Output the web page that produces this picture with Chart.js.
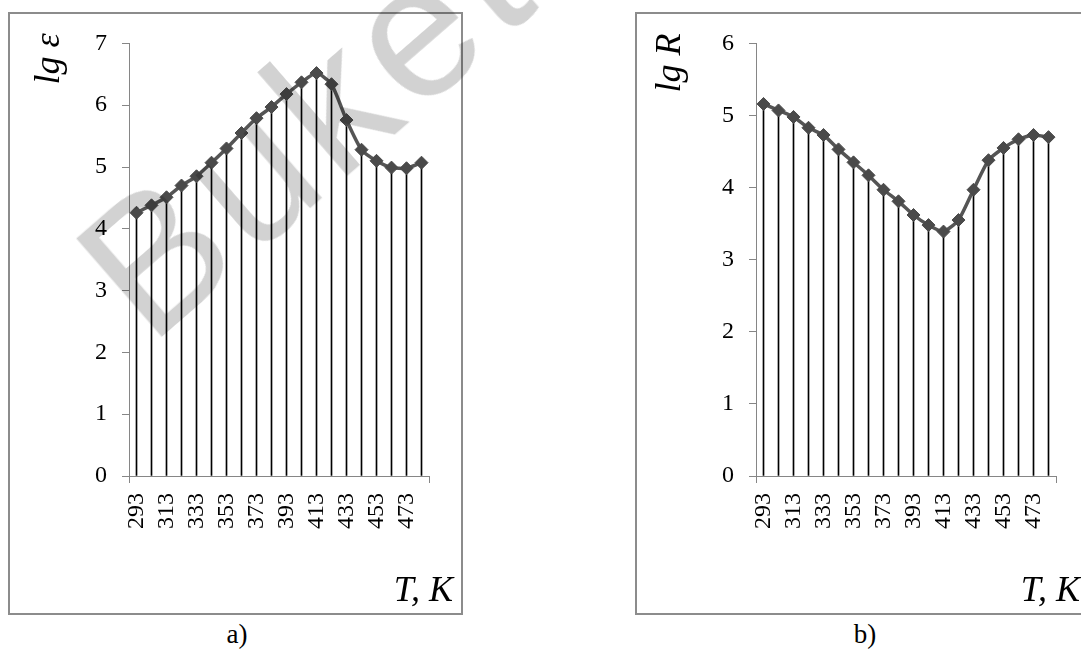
<!DOCTYPE html>
<html>
<head>
<meta charset="utf-8">
<script src="https://cdn.jsdelivr.net/npm/chart.js@4.4.1/dist/chart.umd.min.js"></script>
<style>
  body { margin: 0; width: 1081px; height: 650px; overflow: hidden; background: #fff; position: relative; }
  .box { position: absolute; top: 12px; width: 451px; height: 599px; border: 2px solid #8c8c8c; background: #fff; }
  .cap { position: absolute; top: 619px; width: 60px; text-align: center; font: 27px 'Liberation Serif', serif; color: #000; }
  #mark {
    position: absolute; left: 150px; top: 186px;
    font: 190px/190px 'Liberation Sans', Arial, sans-serif; color: #d2d2d2;
    letter-spacing: 8px;
    white-space: nowrap; transform-origin: 0 161px; transform: rotate(-41deg);
    mix-blend-mode: multiply; pointer-events: none;
  }
</style>
</head>
<body>
<div class="box" style="left:8px"><canvas id="chartA" width="451" height="599"></canvas></div>
<div class="box" style="left:635px"><canvas id="chartB" width="451" height="599"></canvas></div>
<div class="cap" style="left:207px">a)</div>
<div class="cap" style="left:835px">b)</div>
<div id="mark">Buketov</div>
<script>
// temperatures, K
var temps = ['293', '303', '313', '323', '333', '343', '353', '363', '373', '383',
             '393', '403', '413', '423', '433', '443', '453', '463', '473', '483'];
// lg ε (chart a)
var lgEps = [4.26, 4.38, 4.51, 4.70, 4.85, 5.07, 5.30, 5.55, 5.79, 5.97,
             6.18, 6.37, 6.52, 6.34, 5.76, 5.28, 5.10, 4.99, 4.98, 5.07];
// lg R (chart b)
var lgR = [5.16, 5.07, 4.98, 4.83, 4.73, 4.53, 4.35, 4.17, 3.97, 3.81,
           3.62, 3.48, 3.39, 3.55, 3.97, 4.38, 4.55, 4.67, 4.73, 4.70];

var serif = "'Liberation Serif', 'Times New Roman', serif";
var axisGray = '#868686';

// draws the italic axis captions (lg ε / T, K) next to the plot area
var axisTitles = {
    id: 'axisTitles',
    afterDraw: function (chart, args, opts) {
        var ctx = chart.ctx, area = chart.chartArea;
        ctx.save();
        ctx.fillStyle = '#000';
        ctx.font = 'italic 36px ' + serif;
        // y caption, rotated
        ctx.translate(area.left - opts.yDx, area.top - 10);
        ctx.rotate(-Math.PI / 2);
        ctx.textAlign = 'right';
        ctx.textBaseline = 'middle';
        ctx.fillText(opts.y, 0, 0);
        ctx.restore();
        ctx.save();
        ctx.fillStyle = '#000';
        ctx.font = 'italic 36px ' + serif;
        ctx.textAlign = 'right';
        ctx.textBaseline = 'alphabetic';
        ctx.fillText(opts.x, area.right + 24, area.bottom + 125);
        ctx.restore();
    }
};

function makeChart(id, values, yMax, yTitle, yDx) {
    var ctx = document.getElementById(id).getContext('2d');
    return new Chart(ctx, {
        type: 'bar',
        data: {
            labels: temps,
            datasets: [{
                type: 'line',
                data: values,
                borderColor: '#555555',
                borderWidth: 3.5,
                tension: 0.2,
                pointStyle: 'rectRot',
                pointRadius: 6.5,
                pointBackgroundColor: '#4a4a4a',
                pointBorderColor: '#4a4a4a',
                pointBorderWidth: 1,
                order: 0
            }, {
                // drop lines from each point down to the axis
                data: values,
                backgroundColor: '#000',
                borderWidth: 0,
                barThickness: 1,
                order: 1
            }]
        },
        options: {
            responsive: false,
            animation: false,
            layout: { padding: { top: 26, right: 28, left: 0, bottom: 0 } },
            plugins: {
                legend: { display: false },
                tooltip: { enabled: false },
                axisTitles: { x: 'T, K', y: yTitle, yDx: yDx }
            },
            scales: {
                x: {
                    offset: true,
                    grid: {
                        offset: true,
                        drawOnChartArea: false,
                        tickLength: 7,
                        color: function (c) {
                            return (c.type !== 'tick' || c.index === 0) ? axisGray : 'rgba(0,0,0,0)';
                        }
                    },
                    border: { color: axisGray },
                    ticks: {
                        autoSkip: false,
                        maxRotation: 90,
                        minRotation: 90,
                        padding: 10,
                        color: '#000',
                        font: { family: serif, size: 24 },
                        callback: function (v, i) { return i % 2 === 0 ? this.getLabelForValue(v) : ''; }
                    },
                    afterFit: function (s) { s.height = 137; }
                },
                y: {
                    min: 0,
                    max: yMax,
                    grid: { drawOnChartArea: false, tickLength: 7, color: axisGray },
                    border: { color: axisGray },
                    ticks: {
                        stepSize: 1,
                        padding: 15,
                        color: '#000',
                        font: { family: serif, size: 24 }
                    },
                    afterFit: function (s) { s.width = 119; }
                }
            }
        },
        plugins: [axisTitles]
    });
}

makeChart('chartA', lgEps, 7, 'lg ε', 79);
makeChart('chartB', lgR, 6, 'lg R', 85);
</script>
</body>
</html>
